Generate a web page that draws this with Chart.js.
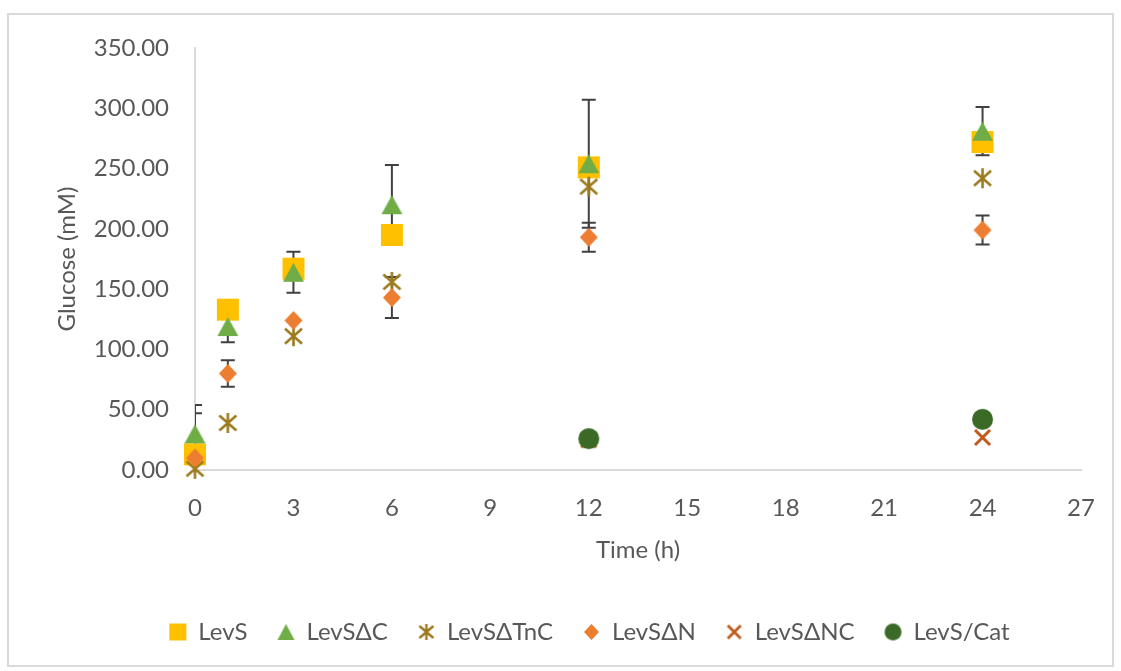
<!DOCTYPE html>
<html>
<head>
<meta charset="utf-8">
<script src="https://cdn.jsdelivr.net/npm/chart.js@4.4.1/dist/chart.umd.min.js"></script>
<style>
  html, body { margin: 0; padding: 0; background: #ffffff; }
  #wrap { position: relative; width: 1121px; height: 671px; }
  canvas { display: block; }
</style>
</head>
<body>
<div id="wrap"><canvas id="chart" width="1121" height="671"></canvas></div>
<script>
// Sampling times (h)
const timeHours = [0, 1, 3, 6, 12, 24];

// Series names
const seriesLabels = ['LevS', 'LevSΔC', 'LevSΔTnC', 'LevSΔN', 'LevSΔNC', 'LevS/Cat'];

// Glucose released (mM) per strain; null = not measured
const glucoseLevS     = [13, 133, 167, 195, 251, 272];
const glucoseLevSdC   = [30, 119, 164, 220, 254, 281];
const glucoseLevSdTnC = [1, 39, 111, 156, 235, 242];
const glucoseLevSdN   = [10, 80, 124, 143, 193, 199];
const glucoseLevSdNC  = [null, null, null, null, 25, 27];
const glucoseLevSCat  = [null, null, null, null, 26, 42];

// Standard deviations (mM), 0 = no bar
const errLevS   = [34, 0, 0, 0, 0, 0];
const errLevSdC = [24, 13, 17, 33, 53, 20];
const errLevSdN = [0, 11, 0, 17, 12, 12];

// Axis ticks
const xTickValues = [0, 3, 6, 9, 12, 15, 18, 21, 24, 27];
const yTickValues = [0, 50, 100, 150, 200, 250, 300, 350];

const TEXT = '#585858';
const FONT = { family: 'Lato, "Open Sans", sans-serif', size: 24 };

// Marker glyphs drawn onto small canvases (used as point styles)
function marker(kind, w, h, color, lw) {
  const pad = 3;
  const c = document.createElement('canvas');
  c.width = Math.ceil(w) + pad * 2;
  c.height = Math.ceil(h) + pad * 2;
  const g = c.getContext('2d');
  const cx = c.width / 2, cy = c.height / 2, hw = w / 2, hh = h / 2;
  g.fillStyle = color;
  g.strokeStyle = color;
  g.lineWidth = lw || 2;
  g.beginPath();
  switch (kind) {
    case 'square':
      g.rect(cx - hw, cy - hh, w, h);
      g.fill();
      break;
    case 'triangle':
      g.moveTo(cx, cy - hh);
      g.lineTo(cx + hw, cy + hh);
      g.lineTo(cx - hw, cy + hh);
      g.closePath();
      g.fill();
      break;
    case 'diamond':
      g.moveTo(cx, cy - hh);
      g.lineTo(cx + hw, cy);
      g.lineTo(cx, cy + hh);
      g.lineTo(cx - hw, cy);
      g.closePath();
      g.fill();
      break;
    case 'circle':
      g.ellipse(cx, cy, hw, hh, 0, 0, Math.PI * 2);
      g.fill();
      break;
    case 'asterisk':
      g.moveTo(cx, cy - hh); g.lineTo(cx, cy + hh);
      g.moveTo(cx - hw, cy - hh * 0.75); g.lineTo(cx + hw, cy + hh * 0.75);
      g.moveTo(cx - hw, cy + hh * 0.75); g.lineTo(cx + hw, cy - hh * 0.75);
      g.stroke();
      break;
    case 'cross':
      g.moveTo(cx - hw, cy - hh); g.lineTo(cx + hw, cy + hh);
      g.moveTo(cx - hw, cy + hh); g.lineTo(cx + hw, cy - hh);
      g.stroke();
      break;
  }
  return c;
}

const COLORS = ['#FFC000', '#70AD47', '#9C7A1E', '#ED7D31', '#C0591A', '#3A6A26'];

const plotMarkers = [
  marker('square', 22, 22, COLORS[0]),
  marker('triangle', 21, 19, COLORS[1]),
  marker('asterisk', 17, 20, COLORS[2], 2.6),
  marker('diamond', 18, 19, COLORS[3]),
  marker('cross', 15, 15, COLORS[4], 3),
  marker('circle', 21, 21, COLORS[5])
];
const legendMarkers = [
  marker('square', 17, 17, COLORS[0]),
  marker('triangle', 17, 16, COLORS[1]),
  marker('asterisk', 14, 16, COLORS[2], 2.4),
  marker('diamond', 15, 16, COLORS[3]),
  marker('cross', 13, 13, COLORS[4], 2.8),
  marker('circle', 17, 17, COLORS[5])
];

function points(values) {
  const out = [];
  values.forEach((v, i) => { if (v !== null) out.push({ x: timeHours[i], y: v }); });
  return out;
}

const seriesValues = [glucoseLevS, glucoseLevSdC, glucoseLevSdTnC, glucoseLevSdN, glucoseLevSdNC, glucoseLevSCat];
const seriesErrors = [errLevS, errLevSdC, null, errLevSdN, null, null];

const datasets = seriesValues.map((vals, i) => ({
  label: seriesLabels[i],
  data: points(vals),
  errors: seriesErrors[i] ? seriesErrors[i].filter((_, j) => vals[j] !== null) : null,
  pointStyle: plotMarkers[i],
  backgroundColor: COLORS[i],
  borderColor: COLORS[i],
  showLine: false,
  clip: false,
  order: seriesValues.length - i
}));

// Vertical error bars with caps, drawn beneath the markers
const errorBars = {
  id: 'errorBars',
  beforeDatasetsDraw(chart) {
    const { ctx, chartArea: a, scales: { x, y } } = chart;
    ctx.save();
    ctx.beginPath();
    ctx.rect(a.left, a.top - 20, a.right - a.left, a.bottom - a.top + 20);
    ctx.clip();
    ctx.strokeStyle = '#404040';
    ctx.lineWidth = 2;
    chart.data.datasets.forEach(ds => {
      if (!ds.errors) return;
      ds.data.forEach((p, j) => {
        const e = ds.errors[j];
        if (!e) return;
        const px = x.getPixelForValue(p.x);
        const top = y.getPixelForValue(p.y + e);
        const bot = y.getPixelForValue(p.y - e);
        ctx.beginPath();
        ctx.moveTo(px, top); ctx.lineTo(px, bot);
        ctx.moveTo(px - 7, top); ctx.lineTo(px + 7, top);
        ctx.moveTo(px - 7, bot); ctx.lineTo(px + 7, bot);
        ctx.stroke();
      });
    });
    ctx.restore();
  }
};

// White background and light frame around the whole chart
const frame = {
  id: 'frame',
  beforeDraw(chart) {
    const { ctx, width, height } = chart;
    ctx.save();
    ctx.fillStyle = '#ffffff';
    ctx.fillRect(0, 0, width, height);
    ctx.strokeStyle = '#d9d9d9';
    ctx.lineWidth = 2;
    ctx.strokeRect(8, 14, 1105, 652);
    ctx.restore();
  }
};

// Centre the legend row under the plot
const legendShift = {
  id: 'legendShift',
  afterLayout(chart) {
    const lg = chart.legend;
    if (!lg) return;
    const dx = 45;
    lg.left += dx;
    lg.right += dx;
  }
};

new Chart(document.getElementById('chart'), {
  type: 'scatter',
  data: { datasets },
  plugins: [frame, errorBars, legendShift],
  options: {
    responsive: false,
    animation: false,
    devicePixelRatio: 1,
    layout: { padding: { left: 8, right: 40, top: 48, bottom: 17 } },
    plugins: {
      tooltip: { enabled: false },
      legend: {
        position: 'bottom',
        labels: {
          usePointStyle: true,
          boxWidth: 17,
          boxHeight: 17,
          padding: 30,
          color: TEXT,
          font: FONT,
          sort: (a, b) => a.datasetIndex - b.datasetIndex,
          generateLabels(chart) {
            const items = Chart.defaults.plugins.legend.labels.generateLabels(chart);
            items.forEach(it => { it.pointStyle = legendMarkers[it.datasetIndex]; });
            return items;
          }
        }
      }
    },
    scales: {
      x: {
        type: 'linear',
        min: 0,
        max: 27,
        afterBuildTicks(s) { s.ticks = xTickValues.map(v => ({ value: v })); },
        afterFit(s) { s.height = 120; },
        grid: { display: false, drawTicks: false },
        border: { display: true, color: '#d9d9d9', width: 2 },
        ticks: { color: TEXT, font: FONT, padding: 24, autoSkip: false, maxRotation: 0 },
        title: { display: true, text: 'Time (h)', color: TEXT, font: FONT, padding: { top: 0, bottom: 25 } }
      },
      y: {
        min: 0,
        max: 350,
        afterBuildTicks(s) { s.ticks = yTickValues.map(v => ({ value: v })); },
        afterFit(s) { s.width = 187; },
        grid: { display: false, drawTicks: false },
        border: { display: true, color: '#d9d9d9', width: 2 },
        ticks: { color: TEXT, font: FONT, padding: 26, callback: v => v.toFixed(2) },
        title: { display: true, text: 'Glucose (mM)', color: TEXT, font: FONT, padding: { top: 45, bottom: 0 } }
      }
    }
  }
});
</script>
</body>
</html>
